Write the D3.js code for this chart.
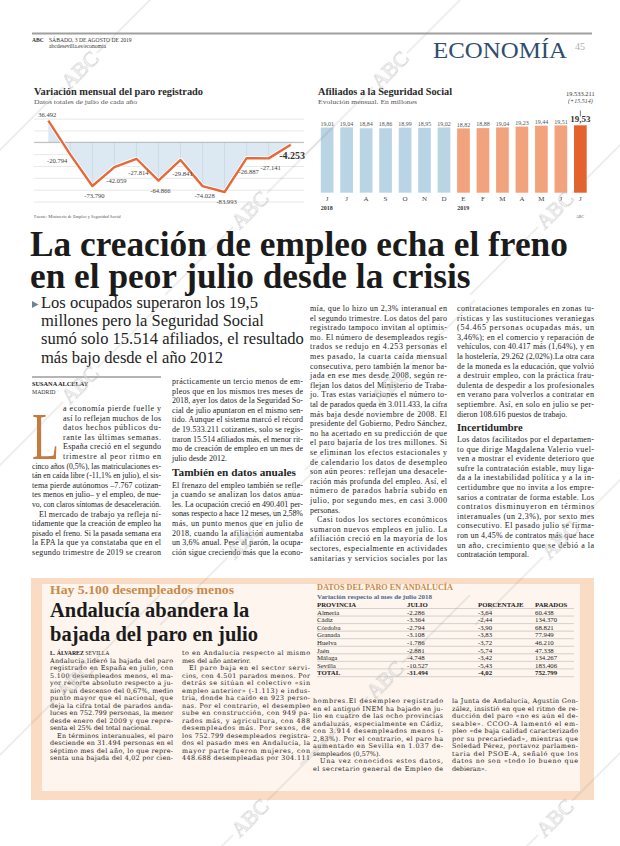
<!DOCTYPE html>
<html><head><meta charset="utf-8">
<script src="https://cdn.jsdelivr.net/npm/d3@7/dist/d3.min.js"></script>
<style>html,body{margin:0;padding:0;background:#fff}svg{display:block}</style>
</head><body>
<svg id="page" width="620" height="846"></svg>
<script>
// ---------------- DATA ----------------
const paroYears = [2008,2009,2010,2011,2012,2013,2014,2015,2016,2017,2018,2019];
const paroValues = [36492,-20794,-73790,-42059,-27814,-64866,-29841,-74028,-83993,-26887,-27141,-4253];
const paroTicks = [-100000,-80000,-60000,-40000,-20000,0,20000,40000];

const afilMonths = ["J","J","A","S","O","N","D","E","F","M","A","M","J","J"];
const afilYearOf = [2018,2018,2018,2018,2018,2018,2018,2019,2019,2019,2019,2019,2019,2019];
const afilValues = [19.01,19.04,18.84,18.86,18.99,18.95,19.02,18.82,18.88,19.04,19.23,19.44,19.51,19.53];
const afilTotal = 19533211;
const afilGain = 15514;

const provincias = ["Almería","Cádiz","Córdoba","Granada","Huelva","Jaén","Málaga","Sevilla","TOTAL"];
const julioVar = [-2286,-3364,-2794,-3108,-1786,-2881,-4748,-10527,-31494];
const porcentaje = [-3.64,-2.44,-3.90,-3.83,-3.72,-5.74,-3.42,-5.43,-4.02];
const parados = [60438,134370,68821,77949,46210,47338,134267,183406,752799];
const tableHeaders = ["PROVINCIA","JULIO","PORCENTAJE","PARADOS"];

// ---------------- TEXTS ----------------
const headline = ["La creación de empleo echa el freno","en el peor julio desde la crisis"];
const deck = ["Los ocupados superaron los 19,5","millones pero la Seguridad Social","sumó solo 15.514 afiliados, el resultado","más bajo desde el año 2012"];
const col1 = ["a economía pierde fuelle y","así lo reflejan muchos de los","datos hechos públicos du-","rante las últimas semanas.","España creció en el segundo","trimestre al peor ritmo en",
"cinco años (0,5%), las matriculaciones es-","tán en caída libre (-11,1% en julio), el sis-","tema pierde autónomos –7.767 cotizan-","tes menos en julio– y el empleo, de nue-","vo, con claros síntomas de desaceleración.$",
"^El mercado de trabajo ya refleja ní-","tidamente que la creación de empleo ha","pisado el freno. Si la pasada semana era","la EPA la que ya constataba que en el","segundo trimestre de 2019 se crearon"];
const col2a = ["prácticamente un tercio menos de em-","pleos que en los mismos tres meses de","2018, ayer los datos de la Seguridad So-","cial de julio apuntaron en el mismo sen-","tido. Aunque el sistema marcó el récord","de 19.533.211 cotizantes, solo se regis-","traron 15.514 afiliados más, el menor rit-","mo de creación de empleo en un mes de","julio desde 2012.$"];
const col2b = ["El frenazo del empleo también se refle-","ja cuando se analizan los datos anua-","les. La ocupación creció en 490.401 per-","sonas respecto a hace 12 meses, un 2,58%","más, un punto menos que en julio de","2018, cuando la afiliación aumentaba","un 3,6% anual. Pese al parón, la ocupa-","ción sigue creciendo más que la econo-"];
const col3 = ["mía, que lo hizo un 2,3% interanual en","el segundo trimestre. Los datos del paro","registrado tampoco invitan al optimis-","mo. El número de desempleados regis-","trados se redujo en 4.253 personas el","mes pasado, la cuarta caída mensual","consecutiva, pero también la menor ba-","jada en ese mes desde 2008, según re-","flejan los datos del Ministerio de Traba-","jo. Tras estas variaciones el número to-","tal de parados queda en 3.011.433, la cifra","más baja desde noviembre de 2008. El","presidente del Gobierno, Pedro Sánchez,","no ha acertado en su predicción de que","el paro bajaría de los tres millones. Si","se eliminan los efectos estacionales y","de calendario los datos de desempleo","son aún peores: reflejan una desacele-","ración más profunda del empleo. Así, el","número de parados habría subido en","julio, por segundo mes, en casi 3.000","personas.$","^Casi todos los sectores económicos","sumaron nuevos empleos en julio. La","afiliación creció en la mayoría de los","sectores, especialmente en actividades","sanitarias y servicios sociales por las"];
const col4a = ["contrataciones temporales en zonas tu-","rísticas y las sustituciones veraniegas","(54.465 personas ocupadas más, un","3,46%); en el comercio y reparación de","vehículos, con 40.417 más (1,64%), y en","la hostelería, 29.262 (2,02%).La otra cara","de la moneda es la educación, que volvió","a destruir empleo, con la práctica frau-","dulenta de despedir a los profesionales","en verano para volverlos a contratar en","septiembre. Así, en solo en julio se per-","dieron 108.616 puestos de trabajo.$"];
const col4b = ["Los datos facilitados por el departamen-","to que dirige Magdalena Valerio vuel-","ven a mostrar el evidente deterioro que","sufre la contratación estable, muy liga-","da a la inestabilidad política y a la in-","certidumbre que no invita a los empre-","sarios a contratar de forma estable. Los","contratos disminuyeron en términos","interanuales (un 2,3%), por sexto mes","consecutivo. El pasado julio se firma-","ron un 4,45% de contratos más que hace","un año, crecimiento que se debió a la","contratación temporal.$"];
const boxTitle = ["Andalucía abandera la","bajada del paro en julio"];
const colA = ["Andalucía lideró la bajada del paro","registrado en España en julio, con","5.100 desempleados menos, el ma-","yor recorte absoluto respecto a ju-","nio y un descenso del 0,67%, medio","punto mayor que el nacional, que","deja la cifra total de parados anda-","luces en 752.799 personas, la menor","desde enero del 2009 y que repre-","senta el 25% del total nacional.$","^En términos interanuales, el paro","desciende en 31.494 personas en el","séptimo mes del año, lo que repre-","senta una bajada del 4,02 por cien-"];
const colB = ["to en Andalucía respecto al mismo","mes del año anterior.$","^El paro baja en el sector servi-","cios, con 4.501 parados menos. Por","detrás se sitúan el colectivo «sin","empleo anterior» (-1.113) e indus-","tria, donde ha caído en 923 perso-","nas. Por el contrario, el desempleo","sube en construcción, con 949 pa-","rados más, y agricultura, con 488","desempleados más. Por sexos, de","los 752.799 desempleados registra-","dos el pasado mes en Andalucía, la","mayor parte fueron mujeres, con","448.688 desempleadas por 304.111"];
const colC = ["hombres.El desempleo registrado","en el antiguo INEM ha bajado en ju-","lio en cuatro de las ocho provincias","andaluzas, especialmente en Cádiz,","con 3.914 desempleados menos (-","2,83%). Por el contrario, el paro ha","aumentado en Sevilla en 1.037 de-","sempleados (0,57%).$","^Una vez conocidos estos datos,","el secretario general de Empleo de"];
const colD = ["la Junta de Andalucía, Agustín Gon-","zález, insistió en que el ritmo de re-","ducción del paro «no es aún el de-","seable». CCOO-A lamentó el em-","pleo «de baja calidad caracterizado","por su precariedad», mientras que","Soledad Pérez, portavoz parlamen-","taria del PSOE-A, señaló que los","datos no son «todo lo bueno que","debieran».$"];

// ---------------- HELPERS ----------------
const SERIF = "'Liberation Serif', 'DejaVu Serif', serif";
const SLAB = "'DejaVu Serif', 'Liberation Serif', serif";
const es = d3.formatLocale({decimal:",", thousands:".", grouping:[3], currency:["","€"], minus:"-"});
const fInt = es.format(",d");
const fPct = es.format(".2f");
const fDec = es.format(".2f");

const svg = d3.select("#page");
svg.append("rect").attr("width",620).attr("height",846).attr("fill","#fff");

function txt(g, s, x, y, o = {}) {
  const t = g.append("text").attr("x", x).attr("y", y).text(s)
    .attr("font-family", o.family || SERIF).attr("font-size", o.size || 8)
    .attr("fill", o.fill || "#222");
  if (o.weight) t.attr("font-weight", o.weight);
  if (o.style) t.attr("font-style", o.style);
  if (o.anchor) t.attr("text-anchor", o.anchor);
  if (o.len) t.attr("textLength", o.len).attr("lengthAdjust", o.adjust || "spacingAndGlyphs");
  return t;
}
function column(g, lines, o) {
  lines.forEach((raw, i) => {
    let s = raw, ind = 0, just = true;
    if (s.startsWith("^")) { ind = o.indent || 7; s = s.slice(1); }
    if (s.endsWith("$")) { just = false; s = s.slice(0, -1); }
    if (o.capLines && i < o.capLines) ind = o.capIndent;
    const t = txt(g, s, o.x + ind, o.y + i * o.pitch, {size: o.size, family: o.family, fill: o.fill});
    const w = o.w - ind;
    const nat = t.node().getComputedTextLength();
    if (just) t.attr("textLength", w).attr("lengthAdjust", nat > w * 1.04 ? "spacingAndGlyphs" : "spacing");
    else if (nat > w) t.attr("textLength", w).attr("lengthAdjust", "spacingAndGlyphs");
  });
}
function fitSize(g, s, target, o) {
  const t = txt(g, s, -999, -999, Object.assign({}, o, {size: 20}));
  const n = t.node().getComputedTextLength();
  t.remove();
  return 20 * target / n;
}

// ---------------- PAGE HEADER ----------------
svg.append("line").attr("x1",32).attr("x2",592).attr("y1",33.5).attr("y2",33.5).attr("stroke","#a0a0a0").attr("stroke-width",2);
txt(svg,"ABC",32,41.5,{size:5.6,weight:"bold",fill:"#333"});
txt(svg,"SÁBADO, 3 DE AGOSTO DE 2019",49,41.5,{size:5.6,fill:"#333"});
txt(svg,"abcdesevilla.es/economia",49,47.5,{size:5.6,fill:"#333"});
txt(svg,"ECONOMÍA",433,57.5,{size:24,fill:"#2f4e6e",len:134});
txt(svg,"45",575,50,{size:10,fill:"#b0b0b0"});

// ---------------- CHART 1: paro ----------------
const c1 = svg.append("g");
txt(c1,"Variación mensual del paro registrado",34,95,{size:10.5,weight:"bold",fill:"#2a2a2a",len:169});
txt(c1,"Datos totales de julio de cada año",34,104,{size:7,fill:"#555",len:103});
const x1 = d3.scalePoint().domain(paroYears).range([48.3,290.7]);
const y1 = d3.scaleLinear().domain([-100000,50000]).range([201.5,112.7]);
const grid = c1.append("g").attr("transform","translate(34,0)")
  .call(d3.axisLeft(y1).tickValues(paroTicks).tickSize(-270).tickFormat(""));
grid.select(".domain").remove();
grid.selectAll(".tick line").attr("stroke","#e2e2e2").attr("stroke-width",0.8);
const pts = paroYears.map((yr,i)=>({yr, v:paroValues[i]}));
c1.append("path").datum(pts)
  .attr("d", d3.area().x(d=>x1(d.yr)).y0(y1(0)).y1(d=>y1(d.v)))
  .attr("fill","#dde9f2");
c1.selectAll(".vg").data(pts.slice(1)).join("line")
  .attr("x1",d=>x1(d.yr)).attr("x2",d=>x1(d.yr))
  .attr("y1",y1(0)).attr("y2",d=>y1(d.v))
  .attr("stroke","#c5d6e2").attr("stroke-width",0.7);
c1.append("line").attr("x1",34).attr("x2",304).attr("y1",y1(0)).attr("y2",y1(0)).attr("stroke","#a8a8a8").attr("stroke-width",0.8);
const ln = d3.line().x(d=>x1(d.yr)).y(d=>y1(d.v));
c1.append("path").datum(pts).attr("d",ln).attr("fill","none").attr("stroke","#fff").attr("stroke-width",4.2).attr("stroke-linejoin","round");
c1.append("path").datum(pts).attr("d",ln).attr("fill","none").attr("stroke","#e4693b").attr("stroke-width",2.4).attr("stroke-linejoin","round");
pts.forEach((d,i)=>{
  const px = x1(d.yr), py = y1(d.v);
  const last = i === pts.length-1;
  if (i === 0) txt(c1, fInt(d.v), px-1, py-4, {size:6.6, fill:"#444", anchor:"middle"});
  else if (last) txt(c1, fInt(d.v), 305, py+14, {size:10, weight:"bold", fill:"#333", anchor:"end"});
  else if (paroValues[i-1] > 0) txt(c1, fInt(d.v), px-3, py+8, {size:6.6, fill:"#444", anchor:"end"});
  else {
    const dy = paroValues[i-1] < d.v ? 16 : 12;
    txt(c1, fInt(d.v), px+2, py+dy, {size:6.6, fill:"#444", anchor:"middle"});
  }
});
txt(c1,"Fuente: Ministerio de Empleo y Seguridad Social",34,218,{size:4.4,fill:"#555"});

// ---------------- CHART 2: afiliados ----------------
const c2 = svg.append("g");
txt(c2,"Afiliados a la Seguridad Social",318,95,{size:10.5,weight:"bold",fill:"#2a2a2a",len:134});
txt(c2,"Evolución mensual. En millones",318,104,{size:7,fill:"#555",len:99});
const x2 = d3.scaleBand().domain(d3.range(afilValues.length)).range([317.5,590]).paddingInner(0.35).paddingOuter(0.17);
const y2 = d3.scaleLinear().domain([4,19.6]).range([192.7,125]);
c2.selectAll("rect.bar").data(afilValues).join("rect")
  .attr("x",(d,i)=>x2(i)).attr("width",x2.bandwidth())
  .attr("y",d=>y2(d)).attr("height",d=>y2(4)-y2(d))
  .attr("fill",(d,i)=> i===afilValues.length-1 ? "#e3622e" : (afilYearOf[i]===2018 ? "#b9d4e5" : "#f2a27c"));
afilValues.forEach((v,i)=>{
  const cx = x2(i)+x2.bandwidth()/2;
  const last = i===afilValues.length-1;
  txt(c2, fDec(v), cx, y2(v)-(last?3:1.8), last ? {size:9, weight:"bold", fill:"#333", anchor:"middle"} : {size:6, fill:"#555", anchor:"middle"});
  txt(c2, afilMonths[i], cx, 201, {size:7, fill:"#444", anchor:"middle"});
  if (i===0 || afilYearOf[i]!==afilYearOf[i-1]) txt(c2, String(afilYearOf[i]), x2(i), 209.5, {size:6, weight:"bold", fill:"#333"});
});
const lastX = x2(afilValues.length-1)+x2.bandwidth()/2;
txt(c2, fInt(afilTotal), lastX, 95.5, {size:6.4, fill:"#333", anchor:"middle"});
txt(c2, "(+"+fInt(afilGain)+")", lastX, 103, {size:6, style:"italic", fill:"#444", anchor:"middle"});
c2.append("line").attr("x1",lastX).attr("x2",lastX).attr("y1",110.5).attr("y2",116.5).attr("stroke","#555").attr("stroke-width",0.8);
txt(c2,"ABC",580,217.5,{size:4,fill:"#555",anchor:"middle"});

// ---------------- HEADLINE & DECK ----------------
const hs = fitSize(svg, headline[0], 538, {weight:"bold"});
txt(svg, headline[0], 30, 256, {size:hs, weight:"bold", fill:"#1b1b1b"});
txt(svg, headline[1], 30, 288, {size:hs, weight:"bold", fill:"#1b1b1b"});
const ds = fitSize(svg, deck[2], 263, {});
svg.append("path").attr("d","M32,301 L38.5,304.5 L32,308 Z").attr("fill","#6f8296");
deck.forEach((s,i)=> txt(svg, s, 41, 307.5 + i*18.4, {size:ds, fill:"#222"}));

// ---------------- BODY ----------------
svg.append("line").attr("x1",32).attr("x2",161).attr("y1",377).attr("y2",377).attr("stroke","#444").attr("stroke-width",0.8);
txt(svg,"SUSANA ALCELAY",32,386,{size:6.3,weight:"bold",fill:"#222"});
txt(svg,"MADRID",32,394,{size:5.8,fill:"#333"});
const P = 9.6, BS = 8;
txt(svg,"L",32,459,{size:68,fill:"#c57b3f",len:27});
column(svg, col1, {x:32, y:411, w:129, pitch:P, size:BS, capLines:6, capIndent:31});
column(svg, col2a, {x:172, y:384, w:131, pitch:P, size:BS});
txt(svg,"También en datos anuales",172,475.5,{size:10.5,weight:"bold",fill:"#1f1f1f",len:124});
column(svg, col2b, {x:172, y:487.5, w:131, pitch:P, size:BS});
column(svg, col3, {x:310, y:311, w:137, pitch:P, size:BS});
column(svg, col4a, {x:457, y:311, w:137, pitch:P, size:BS});
txt(svg,"Incertidumbre",457,430.5,{size:10.5,weight:"bold",fill:"#1f1f1f"});
column(svg, col4b, {x:457, y:442, w:137, pitch:P, size:BS});

// ---------------- BOTTOM BOX ----------------
svg.append("rect").attr("x",31).attr("y",578).attr("width",563).attr("height",222).attr("fill","#f9dcc3");
svg.append("rect").attr("x",42).attr("y",584).attr("width",538).attr("height",207).attr("fill","#fdf5ee");
txt(svg,"Hay 5.100 desempleados menos",50,594,{size:13.5,weight:"bold",fill:"#c98a4b",len:184});
const bs = fitSize(svg, boxTitle[1], 208, {weight:"bold"});
txt(svg, boxTitle[0], 50, 617, {size:bs, weight:"bold", fill:"#1b1b1b"});
txt(svg, boxTitle[1], 50, 641, {size:bs, weight:"bold", fill:"#1b1b1b"});
const by = txt(svg,"",50,655,{size:5.8,fill:"#222"});
by.append("tspan").attr("font-weight","bold").text("L. ÁLVAREZ ");
by.append("tspan").text("SEVILLA");
const BP = 7.5, BSZ = 6.4;
column(svg, colA, {x:50, y:662.5, w:123, pitch:BP, size:BSZ, family:SLAB});
column(svg, colB, {x:182, y:655, w:128, pitch:BP, size:BSZ, family:SLAB});
column(svg, colC, {x:313, y:703, w:130, pitch:BP, size:BSZ, family:SLAB});
column(svg, colD, {x:452, y:703, w:126, pitch:BP, size:BSZ, family:SLAB});

// table
const tb = svg.append("g");
txt(tb,"DATOS DEL PARO EN ANDALUCÍA",317,590,{size:9,weight:"bold",fill:"#c98a4b",len:136});
txt(tb,"Variación respecto al mes de julio 2018",317,598.5,{size:6.2,weight:"bold",fill:"#4a6a8f",len:115});
const colX = [317,407,478,535];
tableHeaders.forEach((h,j)=> txt(tb,h,colX[j],607,{size:6.8,weight:"bold",fill:"#222"}));
const rowY = d3.scaleLinear().domain([0,1]).range([614.8,622.35]);
provincias.forEach((p,i)=>{
  const yy = rowY(i), tot = i===provincias.length-1;
  const o = {size:6.8, fill:"#222", weight: tot ? "bold" : null};
  txt(tb,p,colX[0],yy,o);
  txt(tb,fInt(julioVar[i]),colX[1],yy,o);
  txt(tb,fPct(porcentaje[i]),colX[2],yy,o);
  txt(tb,fInt(parados[i]),colX[3],yy,o);
  tb.append("line").attr("x1",317).attr("x2",574).attr("y1",yy-6.3).attr("y2",yy-6.3).attr("stroke","#9a9a9a").attr("stroke-width",0.4);
});
tb.append("line").attr("x1",317).attr("x2",574).attr("y1",rowY(8)+1.5).attr("y2",rowY(8)+1.5).attr("stroke","#9a9a9a").attr("stroke-width",0.4);

// ---------------- WATERMARKS ----------------
const wmRows = [[70,[80,390]],[210,[250,555]],[385,[80,390]],[540,[245,560]],[680,[75,385]],[818,[250,555]]];
const wm = svg.append("g").attr("opacity",0.55);
wmRows.forEach(([yy,xs])=>xs.forEach(xx=>{
  const g = wm.append("g").attr("transform",`translate(${xx},${yy}) rotate(-45)`);
  g.append("line").attr("x1",-120).attr("x2",-24).attr("y1",0).attr("y2",0).attr("stroke","#999").attr("stroke-width",0.6);
  g.append("line").attr("x1",24).attr("x2",120).attr("y1",0).attr("y2",0).attr("stroke","#999").attr("stroke-width",0.6);
  g.append("text").attr("x",0).attr("y",7).attr("text-anchor","middle").attr("font-family",SERIF)
    .attr("font-size",21).attr("fill","#eeeeee").attr("stroke","#9a9a9a").attr("stroke-width",0.5).text("ABC");
}));
</script>
</body></html>
